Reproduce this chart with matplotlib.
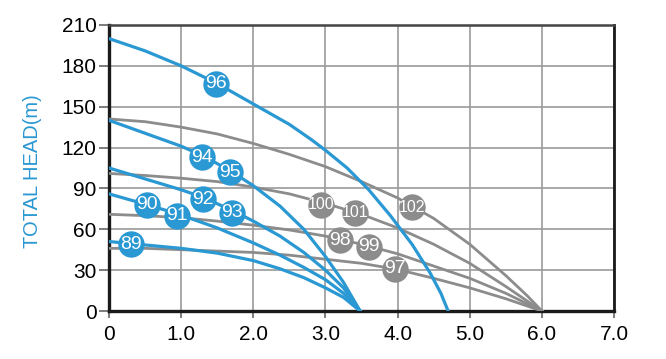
import matplotlib
matplotlib.use("Agg")
import matplotlib.pyplot as plt
from matplotlib import font_manager as fm

# pump curves, flow (x) vs total head (m)
c96_x = [0, 0.5, 1.0, 1.5, 2.0, 2.5, 2.8, 3.0, 3.3, 3.6, 3.9, 4.0, 4.2, 4.45, 4.6, 4.7]
c96_y = [200, 191, 180, 167, 152, 137, 126, 118, 105, 89, 70, 63, 49, 28, 13, 0]

c94_x = [0, 0.5, 1.0, 1.3, 1.68, 2.0, 2.37, 2.7, 3.0, 3.25, 3.48]
c94_y = [140, 130.5, 121, 114, 103, 92, 77, 60, 40, 21, 0]

c92_x = [0, 0.5, 1.0, 1.3, 1.7, 2.0, 2.37, 2.7, 3.0, 3.25, 3.48]
c92_y = [105, 97, 89, 83.5, 74, 66, 55, 43, 30, 17, 0]

c90_x = [0, 0.53, 0.94, 1.5, 2.0, 2.37, 2.7, 3.0, 3.25, 3.48]
c90_y = [86, 78, 71.5, 61, 50, 41, 32, 23, 13, 0]

c89_x = [0, 0.3, 1.0, 1.5, 2.0, 2.37, 2.7, 3.0, 3.25, 3.48]
c89_y = [51, 49.5, 46, 42.5, 37, 31, 24.5, 17, 10, 0]

c102_x = [0, 0.5, 1.0, 1.5, 2.0, 2.5, 3.0, 3.5, 4.0, 4.5, 5.0, 5.5, 5.8, 6.0]
c102_y = [141, 139, 135, 130, 123, 115, 106, 95, 83, 68, 49, 26, 11, 0]

c100_x = [0, 0.5, 1.0, 1.5, 2.0, 2.5, 3.0, 3.5, 4.0, 4.5, 5.0, 5.5, 6.0]
c100_y = [101, 99.5, 97.5, 95, 91, 86, 79, 71, 61, 49, 35, 18, 0]

c98_x = [0, 0.5, 1.0, 1.5, 2.0, 2.5, 3.0, 3.5, 4.0, 4.5, 5.0, 5.5, 6.0]
c98_y = [71, 70, 68.5, 66, 63, 59.5, 55, 49, 42, 33, 24, 13, 0]

c97_x = [0, 0.5, 1.0, 1.5, 2.0, 2.5, 3.0, 3.5, 4.0, 4.5, 5.0, 5.5, 6.0]
c97_y = [46, 46, 45, 44, 43, 41, 38, 35, 30.5, 24, 17, 9, 0]

blue_labels = ["89", "90", "91", "92", "93", "94", "95", "96"]
blue_lx = [0.30, 0.53, 0.94, 1.30, 1.70, 1.29, 1.68, 1.48]
blue_ly = [49, 78, 70, 82, 72, 113, 102, 167]

grey_labels = ["97", "98", "99", "100", "101", "102"]
grey_lx = [3.96, 3.20, 3.60, 2.94, 3.41, 4.20]
grey_ly = [31, 52, 47, 78, 72, 76]

x_ticks = [0, 1, 2, 3, 4, 5, 6, 7]
x_tick_labels = ["0", "1.0", "2.0", "3.0", "4.0", "5.0", "6.0", "7.0"]
y_ticks = [0, 30, 60, 90, 120, 150, 180, 210]

BLUE = "#2a98d2"
GREY = "#8c8c8c"

installed = {f.name for f in fm.fontManager.ttflist}
FONT = "Liberation Sans" if "Liberation Sans" in installed else "DejaVu Sans"
plt.rcParams["font.family"] = [FONT, "DejaVu Sans"]

fig = plt.figure(figsize=(6.66, 3.59), dpi=100)
ax = fig.add_axes([0.1637, 0.1337, 0.7583, 0.7967])

for xs, ys in [(c102_x, c102_y), (c100_x, c100_y), (c98_x, c98_y), (c97_x, c97_y)]:
    ax.plot(xs, ys, color=GREY, lw=2.0, zorder=3, solid_joinstyle="round")
for xs, ys in [(c96_x, c96_y), (c94_x, c94_y), (c92_x, c92_y), (c90_x, c90_y), (c89_x, c89_y)]:
    ax.plot(xs, ys, color=BLUE, lw=2.3, zorder=4, solid_joinstyle="round")

def put_labels(labels, lx, ly, color):
    ax.plot(lx, ly, "o", ms=19, color=color, mew=0, zorder=5, clip_on=False)
    for t, x, y in zip(labels, lx, ly):
        size = 11.5 if len(t) == 3 else 14
        ax.text(x, y, t, color="white", fontsize=size, ha="center", va="center", zorder=6)

put_labels(blue_labels, blue_lx, blue_ly, BLUE)
put_labels(grey_labels, grey_lx, grey_ly, GREY)

ax.set_xlim(0, 7)
ax.set_ylim(0, 210)
ax.set_xticks(x_ticks)
ax.set_xticklabels(x_tick_labels)
ax.set_yticks(y_ticks)
ax.grid(True, color="#9a9a9a", lw=1.2, zorder=1)
ax.set_axisbelow(True)

ax.tick_params(axis="x", direction="out", length=5, width=1.2, color="#666666", pad=5, labelsize=15)
ax.tick_params(axis="y", direction="out", length=7, width=1.2, color="#666666", pad=2, labelsize=15)

for side in ["left", "bottom"]:
    ax.spines[side].set_linewidth(2.4)
    ax.spines[side].set_color("#1a1a1a")
ax.spines["right"].set_linewidth(2.0)
ax.spines["right"].set_color("#1a1a1a")
ax.spines["top"].set_linewidth(1.8)
ax.spines["top"].set_color("#444444")

ax.set_ylabel("TOTAL HEAD(m)", color=BLUE, fontsize=14.5)
ax.yaxis.set_label_coords(-0.133, 0.49)

fig.savefig("out.png", dpi=100)
